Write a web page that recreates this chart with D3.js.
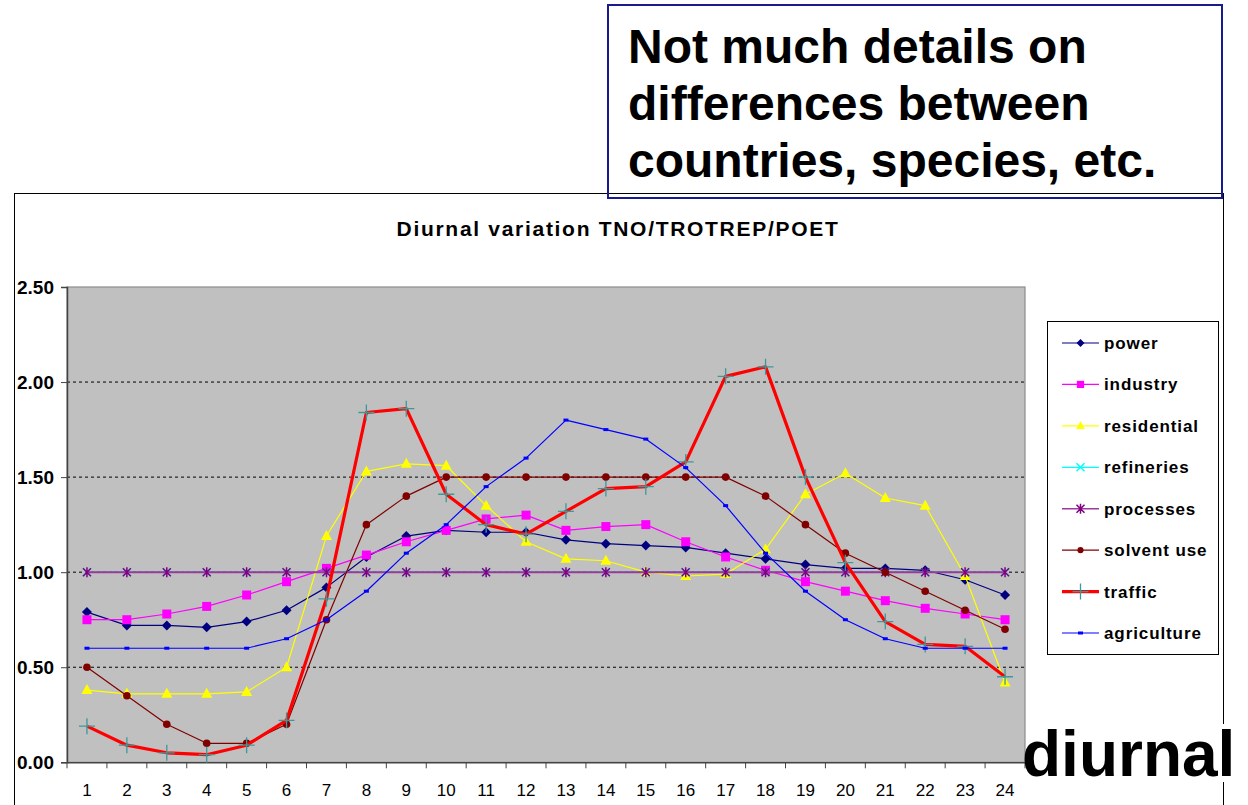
<!DOCTYPE html>
<html><head><meta charset="utf-8">
<script src="https://cdn.jsdelivr.net/npm/d3@7"></script>
<style>body{margin:0;background:#fff;}svg{display:block;font-family:"Liberation Sans",Arial,sans-serif;}</style>
</head><body>
<svg id="c" width="1248" height="805"></svg>
<script>
const hours = d3.range(1, 25).map(String);
const yTicks = [0, 0.5, 1.0, 1.5, 2.0, 2.5];
const power = [0.79,0.72,0.72,0.71,0.74,0.80,0.92,1.08,1.19,1.22,1.21,1.21,1.17,1.15,1.14,1.13,1.10,1.07,1.04,1.02,1.02,1.01,0.96,0.88];
const industry = [0.75,0.75,0.78,0.82,0.88,0.95,1.02,1.09,1.16,1.22,1.28,1.30,1.22,1.24,1.25,1.16,1.08,1.01,0.95,0.90,0.85,0.81,0.78,0.75];
const residential = [0.38,0.36,0.36,0.36,0.37,0.50,1.19,1.53,1.57,1.56,1.35,1.16,1.07,1.06,1.00,0.98,0.99,1.12,1.41,1.52,1.39,1.35,0.98,0.42];
const refineries = [1,1,1,1,1,1,1,1,1,1,1,1,1,1,1,1,1,1,1,1,1,1,1,1];
const processes = [1,1,1,1,1,1,1,1,1,1,1,1,1,1,1,1,1,1,1,1,1,1,1,1];
const solventUse = [0.50,0.35,0.20,0.10,0.10,0.20,0.75,1.25,1.40,1.50,1.50,1.50,1.50,1.50,1.50,1.50,1.50,1.40,1.25,1.10,1.00,0.90,0.80,0.70];
const traffic = [0.19,0.09,0.05,0.04,0.09,0.22,0.86,1.84,1.86,1.41,1.25,1.20,1.32,1.44,1.45,1.58,2.03,2.08,1.50,1.05,0.74,0.62,0.61,0.45];
const agriculture = [0.60,0.60,0.60,0.60,0.60,0.65,0.75,0.90,1.10,1.25,1.45,1.60,1.80,1.75,1.70,1.55,1.35,1.10,0.90,0.75,0.65,0.60,0.60,0.60];
const seriesNames = ["power","industry","residential","refineries","processes","solvent use","traffic","agriculture"];

const series = [
  {name:"power", v:power, color:"#000080", w:1.2, marker:"diamond", mc:"#000080"},
  {name:"industry", v:industry, color:"#ff00ff", w:1.2, marker:"square", mc:"#ff00ff"},
  {name:"residential", v:residential, color:"#ffff00", w:1.2, marker:"triangle", mc:"#ffff00"},
  {name:"refineries", v:refineries, color:"#00ffff", w:1.2, marker:"x", mc:"#00ffff"},
  {name:"processes", v:processes, color:"#9a3a9a", w:2, marker:"star", mc:"#800080"},
  {name:"solvent use", v:solventUse, color:"#800000", w:1.2, marker:"circle", mc:"#800000"},
  {name:"traffic", v:traffic, color:"#ff0000", w:3.2, marker:"plus", mc:"#3a9a9a"},
  {name:"agriculture", v:agriculture, color:"#0000ff", w:1.2, marker:"dash", mc:"#0000ff"}
];

const svg = d3.select("#c");
const L = 67, R = 1025, T = 287, B = 762.3;
const x = d3.scaleBand().domain(hours).range([L, R]).padding(0);
const y = d3.scaleLinear().domain([0, 2.5]).range([B, T]);
const cx = h => x(h) + x.bandwidth() / 2;

// chart outer border
svg.append("rect").attr("x", 14.5).attr("y", 193.5).attr("width", 1209).attr("height", 640)
  .attr("fill", "none").attr("stroke", "#000").attr("stroke-width", 1);

// plot area
svg.append("rect").attr("x", L).attr("y", T).attr("width", R - L).attr("height", B - T)
  .attr("fill", "#c0c0c0").attr("stroke", "#8c8c8c").attr("stroke-width", 1.2);

// gridlines
svg.append("g").selectAll("line").data(yTicks.filter(t => t > 0 && t < 2.5)).join("line")
  .attr("x1", L).attr("x2", R).attr("y1", d => y(d)).attr("y2", d => y(d))
  .attr("stroke", "#000").attr("stroke-width", 1).attr("stroke-dasharray", "3,3");

// y axis
const yAxis = d3.axisLeft(y).tickValues(yTicks).tickFormat(d3.format(".2f")).tickSize(6).tickPadding(7);
const gy = svg.append("g").attr("transform", `translate(${L},0)`).call(yAxis);
gy.select(".domain").attr("stroke", "#444").attr("stroke-width", 1.5);
gy.selectAll(".tick line").attr("stroke", "#444");
gy.selectAll("text").attr("font-size", 19).attr("font-weight", "bold").attr("fill", "#000")
  .attr("font-family", "Liberation Sans, Arial, sans-serif");

// x axis
const xAxis = d3.axisBottom(x).tickSize(0).tickPadding(22);
const gx = svg.append("g").attr("transform", `translate(0,${B})`).call(xAxis);
gx.select(".domain").attr("stroke", "#444").attr("stroke-width", 1.5);
gx.selectAll("text").attr("font-size", 17).attr("fill", "#000")
  .attr("font-family", "Liberation Sans, Arial, sans-serif");
const bounds = hours.map(h => x(h)).concat([R]);
gx.selectAll(".bt").data(bounds).join("line").attr("class", "bt")
  .attr("x1", d => d).attr("x2", d => d).attr("y1", 0).attr("y2", 6).attr("stroke", "#444");

function drawMarker(g, type, c, s) {
  const sc = s || 1;
  switch (type) {
    case "diamond":
      g.append("path").attr("d", `M0,${-5*sc}L${5*sc},0L0,${5*sc}L${-5*sc},0Z`).attr("fill", c); break;
    case "square":
      g.append("rect").attr("x", -4.5 * sc).attr("y", -4.5 * sc).attr("width", 9 * sc).attr("height", 9 * sc).attr("fill", c); break;
    case "triangle":
      g.append("path").attr("d", `M0,${-6*sc}L${5.5*sc},${4*sc}L${-5.5*sc},${4*sc}Z`).attr("fill", c); break;
    case "x":
      g.append("path").attr("d", `M-4,-4L4,4M-4,4L4,-4`).attr("stroke", c).attr("stroke-width", 1.5); break;
    case "star":
      g.append("path").attr("d", `M-4,-4L4,4M-4,4L4,-4M0,-5L0,5`).attr("stroke", c).attr("stroke-width", 1.5); break;
    case "circle":
      g.append("circle").attr("r", 3.8 * sc).attr("fill", c); break;
    case "plus":
      g.append("path").attr("d", `M-8,0L8,0M0,-8L0,8`).attr("stroke", c).attr("stroke-width", 1.3); break;
    case "dash":
      g.append("rect").attr("x", -2.5).attr("y", -1.5).attr("width", 5).attr("height", 3).attr("fill", c); break;
  }
}

const line = d3.line().x((d, i) => cx(hours[i])).y(d => y(d));
series.forEach(s => {
  const g = svg.append("g");
  g.append("path").datum(s.v).attr("d", line).attr("fill", "none")
    .attr("stroke", s.color).attr("stroke-width", s.w).attr("stroke-linejoin", "round");
  s.v.forEach((v, i) => {
    const mg = g.append("g").attr("transform", `translate(${cx(hours[i])},${y(v)})`);
    drawMarker(mg, s.marker, s.mc);
  });
});

// title
svg.append("text").attr("x", 618).attr("y", 236).attr("text-anchor", "middle")
  .attr("font-size", 21).attr("font-weight", "bold").attr("letter-spacing", 1.7)
  .text("Diurnal variation TNO/TROTREP/POET");

// legend
svg.append("rect").attr("x", 1047.5).attr("y", 321.5).attr("width", 171).attr("height", 333)
  .attr("fill", "#fff").attr("stroke", "#000").attr("stroke-width", 1);
const legY = d3.scalePoint().domain(seriesNames).range([343, 633]);
series.forEach(s => {
  const yy = legY(s.name);
  const g = svg.append("g");
  g.append("line").attr("x1", 1062).attr("x2", 1099).attr("y1", yy).attr("y2", yy)
    .attr("stroke", s.color).attr("stroke-width", s.name === "traffic" ? 3.2 : (s.name === "processes" ? 1.5 : 1.2));
  const mg = g.append("g").attr("transform", `translate(1080.5,${yy})`);
  drawMarker(mg, s.marker, s.mc, 0.8);
  g.append("text").attr("x", 1104).attr("y", yy + 6).attr("font-size", 17).attr("font-weight", "bold")
    .attr("letter-spacing", 0.9).text(s.name);
});

// annotation box
svg.append("rect").attr("x", 608).attr("y", 5).attr("width", 614).attr("height", 193)
  .attr("fill", "none").attr("stroke", "#1a1a90").attr("stroke-width", 2);
const noteLines = ["Not much details on", "differences between", "countries, species, etc."];
svg.append("g").selectAll("text").data(noteLines).join("text")
  .attr("x", 628).attr("y", (d, i) => 63 + i * 57)
  .attr("font-size", 48).attr("font-weight", "bold").text(d => d);

// big word
svg.append("rect").attr("x", 1026).attr("y", 724).attr("width", 210).attr("height", 58).attr("fill", "#fff");
svg.append("text").attr("x", 1022).attr("y", 776).attr("font-size", 64).attr("font-weight", "bold").text("diurnal");
</script>
</body></html>
